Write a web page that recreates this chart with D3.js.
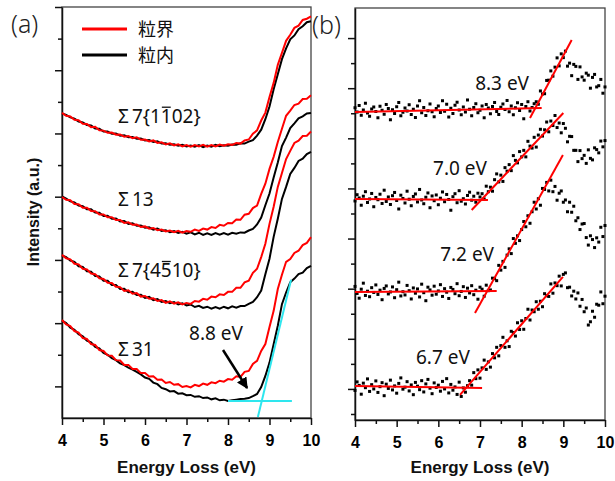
<!DOCTYPE html>
<html>
<head>
<meta charset="utf-8">
<script src="https://cdn.jsdelivr.net/npm/d3@7"></script>
<style>
  body { margin: 0; background: #fff; }
  svg { display: block; }
  .tick text { font-family: "Liberation Sans", Arial, sans-serif; font-weight: bold; font-size: 16px; fill: #000; }
  .label { font-family: "Noto Sans", "Open Sans", sans-serif; font-size: 19px; fill: #111; }
  .jp { font-family: "Noto Sans CJK JP", sans-serif; font-size: 18px; fill: #111; }
  .title { font-family: "Liberation Sans", Arial, sans-serif; font-weight: bold; font-size: 17px; fill: #111; }
  .panel { font-family: "Noto Sans", sans-serif; font-size: 25px; font-weight: 300; fill: #222; }
</style>
</head>
<body>
<div id="chart"></div>
<script>
// energy grids (eV)
const energyA = d3.range(61).map(i => +(4 + i * 0.1).toFixed(2));
const energyB = d3.range(121).map(i => +(4 + i * 0.05).toFixed(2));

const ticksE = [4, 5, 6, 7, 8, 9, 10];
const minorE = [4.5, 5.5, 6.5, 7.5, 8.5, 9.5];
const ticksYA = [10, 30, 50, 70, 90, 110, 130];
const minorYA = [20, 40, 60, 80, 100, 120];
const ticksYB = [0, 2, 4, 6, 8, 10, 12, 14];
const minorYB = [-1, 1, 3, 5, 7, 9, 11, 13];

// (a) spectra, grain boundary (粒界) and grain interior (粒内)
const s7aGB = [96.5, 95.6, 95.4, 94.3, 94.2, 93.1, 93.0, 92.0, 92.1, 91.0,
  90.9, 90.2, 90.3, 89.6, 89.7, 89.0, 89.2, 88.5, 88.8, 88.0,
  88.1, 87.5, 87.8, 87.0, 87.2, 86.5, 86.9, 86.2, 86.6, 85.9,
  86.3, 85.8, 86.3, 85.9, 86.4, 85.8, 86.3, 85.9, 86.5, 86.1,
  86.6, 86.4, 87.0, 86.8, 87.8, 88.1, 89.9, 91.0, 94.1, 96.6,
  101.5, 106.0, 111.7, 115.5, 119.3, 121.2, 123.4, 124.1, 125.9, 126.3, 127.0];
const s7aIn = [96.3, 95.9, 95.1, 94.7, 93.8, 93.5, 92.7, 92.5, 91.6, 91.5,
  90.6, 90.6, 89.9, 90.0, 89.3, 89.4, 88.8, 88.9, 88.3, 88.4,
  87.8, 87.9, 87.3, 87.5, 86.8, 86.9, 86.4, 86.6, 86.1, 86.4,
  85.9, 86.2, 85.8, 86.3, 85.7, 86.2, 85.8, 86.4, 86.0, 86.3,
  86.1, 86.5, 86.4, 86.9, 86.8, 87.4, 87.9, 89.3, 91.2, 94.5,
  98.5, 104.0, 108.7, 113.5, 116.9, 119.8, 121.0, 123.0, 123.9, 125.2, 125.5];
const s13GB = [69.9, 69.0, 68.9, 67.7, 67.6, 66.5, 66.5, 65.5, 65.4, 64.4,
  64.4, 63.5, 63.5, 62.6, 62.6, 61.7, 61.9, 61.1, 61.2, 60.4,
  60.6, 59.9, 60.1, 59.4, 59.6, 59.0, 59.3, 58.8, 59.2, 58.6,
  59.1, 58.9, 59.6, 59.2, 59.9, 59.6, 60.4, 60.1, 61.1, 60.8,
  61.7, 61.6, 62.8, 62.7, 64.3, 64.6, 66.4, 67.2, 70.9, 74.1,
  78.8, 82.6, 87.3, 91.5, 95.6, 97.2, 99.0, 99.4, 100.9, 101.0, 102.1];
const s13In = [70.1, 69.4, 68.5, 68.2, 67.2, 67.0, 66.0, 66.0, 65.0, 64.9,
  63.9, 64.0, 63.0, 63.1, 62.2, 62.3, 61.4, 61.6, 60.8, 60.9,
  60.2, 60.3, 59.6, 59.9, 59.2, 59.4, 58.8, 59.1, 58.5, 58.9,
  58.3, 58.7, 58.1, 58.6, 57.9, 58.4, 57.9, 58.5, 58.0, 58.5,
  58.0, 58.6, 58.3, 58.7, 58.6, 59.3, 59.8, 61.2, 63.4, 67.3,
  71.0, 76.1, 80.8, 86.0, 88.7, 91.7, 93.2, 94.8, 95.4, 96.3, 96.5];
const s7bGB = [51.6, 50.5, 50.2, 48.8, 48.6, 47.2, 47.0, 45.7, 45.5, 44.2,
  44.0, 42.8, 42.7, 41.5, 41.4, 40.2, 40.4, 39.3, 39.5, 38.4,
  38.6, 37.7, 37.9, 37.0, 37.3, 36.4, 36.9, 36.2, 36.6, 35.9,
  36.4, 36.1, 37.0, 36.8, 37.7, 37.4, 38.4, 38.2, 39.1, 38.9,
  39.9, 39.9, 41.2, 41.2, 42.9, 43.4, 45.9, 47.2, 50.9, 55.1,
  61.4, 66.8, 73.1, 77.5, 81.9, 84.5, 87.0, 87.7, 89.2, 89.3, 90.6];
const s7bIn = [51.4, 50.9, 49.8, 49.4, 48.0, 47.8, 46.4, 46.3, 44.9, 44.8,
  43.4, 43.4, 42.1, 42.1, 40.8, 40.9, 39.8, 39.9, 38.9, 39.0,
  38.0, 38.3, 37.3, 37.6, 36.7, 37.0, 36.3, 36.7, 35.9, 36.3,
  35.6, 35.9, 35.1, 35.5, 34.8, 35.2, 34.6, 35.1, 34.6, 35.2,
  34.7, 35.3, 34.9, 35.4, 35.4, 36.1, 36.7, 38.2, 40.3, 45.5,
  50.4, 57.3, 63.0, 69.3, 73.1, 77.2, 79.1, 81.3, 82.0, 83.5, 84.2];
const s31GB = [31.0, 29.6, 29.1, 27.5, 27.0, 25.3, 25.0, 23.4, 23.1, 21.5,
  21.2, 19.8, 19.7, 18.3, 18.2, 16.8, 16.8, 15.5, 15.5, 14.2,
  14.2, 13.1, 13.2, 12.1, 12.2, 11.1, 11.4, 10.5, 10.7, 9.8,
  10.1, 9.7, 10.5, 10.1, 10.9, 10.5, 11.3, 11.0, 11.8, 11.5,
  12.3, 12.1, 13.2, 13.0, 14.6, 14.9, 17.1, 18.1, 21.2, 23.4,
  28.8, 33.9, 40.8, 45.3, 49.4, 50.3, 52.2, 52.9, 54.7, 55.4, 57.2];
const s31In = [30.8, 30.0, 28.6, 27.9, 26.5, 25.8, 24.5, 23.9, 22.5, 22.0,
  20.6, 20.0, 18.9, 18.3, 17.3, 16.7, 15.9, 15.3, 14.6, 13.8,
  12.8, 12.4, 11.2, 10.7, 9.5, 9.1, 8.4, 8.5, 7.7, 7.8,
  7.2, 7.3, 6.7, 6.9, 6.3, 6.5, 5.9, 6.2, 5.6, 5.8,
  5.4, 5.6, 5.8, 6.0, 6.1, 6.3, 6.9, 7.6, 9.8, 13.3,
  17.5, 23.3, 29.2, 36.0, 39.7, 42.9, 44.1, 45.5, 46.0, 47.4, 48.1];

// onset construction for Σ31 (8.8 eV)
const onsetBase = [[8.0, 5.4], [9.54, 5.4]];
const onsetEdge = [[8.72, 0.3], [9.52, 43.7]];
const onsetArrow = [[7.88, 21.5], [8.46, 9.5]];

// (b) difference spectra (scatter) and linear fits
const d83 = [11.22, 11.05, 11.31, 10.92, 11.13, 11.40, 11.01, 10.88, 11.17, 11.25,
  11.07, 10.82, 11.28, 11.12, 10.96, 11.35, 11.19, 10.74, 11.14, 10.99,
  11.26, 11.43, 10.90, 11.04, 11.21, 11.09, 11.34, 10.95, 11.16, 10.83,
  11.29, 11.50, 11.02, 11.23, 10.91, 11.10, 11.37, 11.06, 10.86, 11.19,
  11.29, 11.03, 11.50, 11.08, 11.36, 10.85, 11.20, 10.99, 11.32, 11.44,
  11.13, 10.94, 11.25, 11.05, 11.53, 11.16, 10.90, 11.23, 11.38, 11.02,
  11.12, 11.29, 10.82, 11.35, 11.21, 10.98, 11.27, 11.43, 11.07, 10.95,
  11.24, 11.37, 11.15, 11.51, 11.06, 11.29, 10.94, 11.22, 11.42, 11.11,
  11.35, 10.78, 11.27, 11.46, 11.09, 11.23, 11.38,
  11.46, 11.36, 11.89, 11.77, 11.78, 12.31, 12.32, 12.69, 12.48, 12.84,
  13.21, 12.89, 13.37, 13.22, 13.48, 12.88, 13.00, 12.50, 12.95, 12.87,
  12.35, 12.85, 12.45, 12.32, 12.60, 12.52, 12.00, 12.43, 12.55, 12.05,
  12.10, 12.35, 11.80, 12.05];
const d70 = [7.50, 7.75, 7.62, 7.33, 7.69, 7.87, 7.44, 7.58, 7.80, 7.27,
  7.64, 7.55, 7.77, 7.40, 7.93, 7.48, 7.66, 7.36, 7.71, 7.84,
  7.52, 7.18, 7.73, 7.60, 7.42, 7.89, 7.57, 7.31, 7.68, 7.78,
  7.46, 7.96, 7.54, 7.39, 7.65, 7.82, 7.23, 7.70, 7.51, 7.74,
  7.35, 7.61, 7.86, 7.47, 7.76, 7.56, 7.13, 7.67, 7.79, 7.43,
  7.91, 7.49, 7.59, 7.38, 7.72, 7.85, 7.53, 7.69, 7.45, 7.81, 7.66,
  7.79, 7.58, 8.09, 7.87, 8.05, 7.89, 8.35, 8.58, 8.26, 8.53,
  8.28, 8.83, 8.69, 8.95, 8.71, 9.31, 9.12, 9.02, 9.47, 9.26,
  9.52, 9.26, 9.88, 9.69, 9.61, 10.04, 9.65, 10.13, 10.36, 10.09,
  10.34, 10.65, 10.26, 10.69, 10.51, 10.91, 10.43, 10.61, 10.22, 10.59,
  10.40, 9.86, 10.08, 10.07, 9.52, 9.52, 9.07, 9.51, 9.19, 9.32,
  9.00, 9.54, 9.20, 9.14, 9.62, 9.55, 9.42, 9.89, 9.66, 9.91];
const d72 = [4.09, 3.81, 3.62, 3.98, 4.22, 3.73, 3.90, 3.68, 4.04, 3.85,
  4.15, 3.77, 3.94, 3.56, 4.01, 4.11, 3.79, 3.87, 4.07, 3.64,
  3.96, 4.26, 3.71, 3.88, 3.75, 4.13, 3.92, 3.59, 4.03, 3.82,
  3.99, 3.67, 4.18, 3.84, 3.52, 4.06, 3.95, 3.74, 4.10, 3.78,
  3.91, 4.16, 3.69, 4.00, 3.86, 3.61, 4.05, 3.97, 3.80, 4.20,
  3.72, 3.89, 4.08, 3.65, 4.02, 3.83, 4.12, 3.76, 3.94, 3.58,
  4.06, 3.98, 3.70, 4.14, 3.92,
  3.95, 4.42, 4.40, 4.32, 4.93, 4.74, 5.09, 4.85, 5.34, 5.59,
  5.40, 6.00, 5.81, 6.11, 5.92, 6.36, 6.68, 6.47, 6.91, 6.61,
  7.07, 7.45, 7.18, 7.59, 7.33, 8.00, 7.96, 8.24, 7.90, 8.33,
  7.87, 8.08, 7.53, 7.81, 7.90, 7.45, 7.54, 7.07, 7.45, 7.05,
  7.29, 6.71, 6.83, 6.36, 6.58, 6.60, 6.04, 5.74, 6.11, 5.96,
  5.64, 6.03, 5.86, 6.45, 6.08, 6.52];
const d67 = [-0.06, 0.28, 0.14, -0.21, 0.23, 0.05, 0.40, -0.10, 0.17, 0.00,
  0.32, -0.14, 0.09, 0.25, -0.27, 0.19, 0.02, 0.35, -0.04, 0.12,
  -0.17, 0.22, 0.44, -0.01, 0.07, 0.29, -0.08, 0.16, -0.23, 0.26,
  0.11, -0.03, 0.33, -0.12, 0.20, 0.38, 0.03, -0.19, 0.24, 0.06,
  0.15, -0.09, 0.30, 0.00, 0.41, -0.16, 0.18, -0.05, 0.08, -0.22,
  0.27, -0.30, 0.04, -0.13, 0.13,
  0.33, 0.15, 0.65, 0.41, 0.76, 0.43, 0.84, 1.15, 0.78, 1.08,
  0.87, 1.41, 1.24, 1.66, 1.32, 1.73, 2.06, 1.66, 1.92, 1.69,
  2.30, 2.25, 2.11, 2.64, 2.37, 2.72, 2.38, 2.81, 3.18, 2.75,
  3.15, 3.08, 3.48, 3.18, 3.50, 3.28, 3.80, 3.72, 3.69, 4.19,
  3.82, 4.23, 4.12, 4.50, 4.11, 4.57, 4.63, 4.04, 4.06, 3.71,
  3.90, 3.59, 3.83, 3.30, 3.57, 3.08, 3.23, 2.55, 2.68, 3.10,
  2.86, 3.38, 3.34, 3.87, 3.40, 3.70];

const fitsB = [
  { base: [[4.0, 11.05], [8.48, 11.21]], edge: [[8.2, 10.81], [9.2, 13.92]] },
  { base: [[4.0, 7.58], [7.19, 7.54]], edge: [[6.8, 7.14], [9.0, 11.01]] },
  { base: [[4.0, 3.87], [7.4, 3.91]], edge: [[6.88, 3.03], [8.99, 9.33]] },
  { base: [[4.0, 0.12], [7.05, 0.04]], edge: [[6.52, -0.24], [8.99, 4.47]] }
];

const RED = "#f00";
const CYAN = "#2ee6ee";

const width = 615, height = 481;
const svg = d3.select("#chart").append("svg")
  .attr("width", width)
  .attr("height", height);

const xA = d3.scaleLinear([4, 10], [62, 311]);
const yA = d3.scaleLinear([0, 130], [418, 7]);
const xB = d3.scaleLinear([4, 10], [355, 605]);
const yB = d3.scaleLinear([-1.24, 15.2], [420, 8]);

function drawAxes(x, y, yMajor, yMinor) {
  const [x0, x1] = x.range();
  const [y0, y1] = y.range();

  svg.append("rect")
    .attr("x", x0).attr("y", y1)
    .attr("width", x1 - x0).attr("height", y0 - y1)
    .attr("fill", "none").attr("stroke", "#444").attr("stroke-width", 1.3);

  const bottom = svg.append("g").attr("transform", `translate(0,${y0})`);
  bottom.append("g")
    .call(d3.axisBottom(x).tickValues(minorE).tickSize(4).tickFormat(""))
    .call(g => g.select(".domain").remove());
  bottom.append("g")
    .call(d3.axisBottom(x).tickValues(ticksE).tickSizeInner(7).tickSizeOuter(0).tickPadding(10).tickFormat(d3.format("d")));

  const left = svg.append("g").attr("transform", `translate(${x0},0)`);
  left.append("g")
    .call(d3.axisLeft(y).tickValues(yMinor).tickSize(4).tickFormat(""))
    .call(g => g.select(".domain").remove());
  left.append("g")
    .call(d3.axisLeft(y).tickValues(yMajor).tickSizeInner(7).tickSizeOuter(0).tickFormat(""));

  svg.selectAll(".domain, .tick line").attr("stroke", "#111").attr("stroke-width", 1.5);

  svg.append("text")
    .attr("class", "title")
    .attr("x", (x0 + x1) / 2).attr("y", 473)
    .attr("text-anchor", "middle")
    .text("Energy Loss (eV)");
}

drawAxes(xA, yA, ticksYA, minorYA);
drawAxes(xB, yB, ticksYB, minorYB);

// ---- panel (a)
const lineA = d3.line()
  .x((d, i) => xA(energyA[i]))
  .y(d => yA(d));

const interior = [s7aIn, s13In, s7bIn, s31In];
const boundary = [s7aGB, s13GB, s7bGB, s31GB];

svg.append("g").selectAll("path")
  .data(interior)
  .join("path")
  .attr("d", lineA)
  .attr("fill", "none").attr("stroke", "#000").attr("stroke-width", 2);

svg.append("g").selectAll("path")
  .data(boundary)
  .join("path")
  .attr("d", lineA)
  .attr("fill", "none").attr("stroke", RED).attr("stroke-width", 2);

const seg = d3.line().x(d => xA(d[0])).y(d => yA(d[1]));
[onsetBase, onsetEdge].forEach(s => {
  svg.append("path").attr("d", seg(s))
    .attr("fill", "none").attr("stroke", CYAN).attr("stroke-width", 2);
});

svg.append("defs").append("marker")
  .attr("id", "head")
  .attr("viewBox", "0 0 10 10")
  .attr("refX", 9).attr("refY", 5)
  .attr("markerWidth", 4.5).attr("markerHeight", 4.5)
  .attr("orient", "auto")
  .append("path").attr("d", "M0,0L10,5L0,10z").attr("fill", "#000");

svg.append("path").attr("d", seg(onsetArrow))
  .attr("stroke", "#000").attr("stroke-width", 2.5)
  .attr("marker-end", "url(#head)");

svg.append("text").attr("class", "label")
  .attr("x", xA(7.71)).attr("y", yA(24.7))
  .attr("text-anchor", "middle").text("8.8 eV");

// Σ labels; bar index marks the negative Miller index
const sigma = [
  { text: "7{1102}", bar: 4, v: 93.4 },
  { text: "13", bar: -1, v: 67.1 },
  { text: "7{4510}", bar: 4, v: 44.6 },
  { text: "31", bar: -1, v: 19.6 }
];
sigma.forEach(s => {
  const px = xA(5.35), py = yA(s.v);
  const t = svg.append("text").attr("class", "label").attr("x", px).attr("y", py);
  t.append("tspan").text("Σ");
  t.append("tspan").attr("dx", 3).text(s.text);
  if (s.bar > 0) {
    const node = t.node();
    const a = node.getStartPositionOfChar(s.bar).x;
    const b = node.getEndPositionOfChar(s.bar).x;
    svg.append("line")
      .attr("x1", a + 1).attr("x2", b - 1)
      .attr("y1", py - 15.5).attr("y2", py - 15.5)
      .attr("stroke", "#111").attr("stroke-width", 1.3);
  }
});

// legend
const legend = [{ name: "粒界", color: RED }, { name: "粒内", color: "#000" }];
legend.forEach((d, i) => {
  const yy = 29 + i * 26;
  svg.append("line")
    .attr("x1", 82).attr("x2", 127).attr("y1", yy).attr("y2", yy)
    .attr("stroke", d.color).attr("stroke-width", 3);
  svg.append("text").attr("class", "jp")
    .attr("x", 138).attr("y", yy + 6.5).text(d.name);
});

svg.append("text").attr("class", "title")
  .attr("transform", "translate(39,212) rotate(-90)")
  .attr("text-anchor", "middle")
  .style("font-size", "16px")
  .text("Intensity (a.u.)");

// ---- panel (b)
const seriesB = [d83, d70, d72, d67];
const gB = svg.append("g");
seriesB.forEach(s => {
  gB.append("g").selectAll("rect")
    .data(s)
    .join("rect")
    .attr("x", (d, i) => xB(energyB[i]) - 1.5)
    .attr("y", d => yB(d) - 1.5)
    .attr("width", 3).attr("height", 3)
    .attr("fill", "#000");
});

const segB = d3.line().x(d => xB(d[0])).y(d => yB(d[1]));
fitsB.forEach(f => {
  [f.base, f.edge].forEach(s => {
    gB.append("path").attr("d", segB(s))
      .attr("fill", "none").attr("stroke", RED).attr("stroke-width", 2);
  });
});

const onsetLabels = [
  { text: "8.3 eV", e: 7.53, v: 11.93 },
  { text: "7.0 eV", e: 6.52, v: 8.54 },
  { text: "7.2 eV", e: 6.69, v: 5.11 },
  { text: "6.7 eV", e: 6.11, v: 1.0 }
];
svg.selectAll(".onsetB")
  .data(onsetLabels)
  .join("text")
  .attr("class", "label onsetB")
  .attr("x", d => xB(d.e)).attr("y", d => yB(d.v))
  .attr("text-anchor", "middle")
  .text(d => d.text);

svg.append("text").attr("class", "panel").attr("x", 11).attr("y", 33).text("(a)");
svg.append("text").attr("class", "panel").attr("x", 312).attr("y", 34).text("(b)");
</script>
</body>
</html>
